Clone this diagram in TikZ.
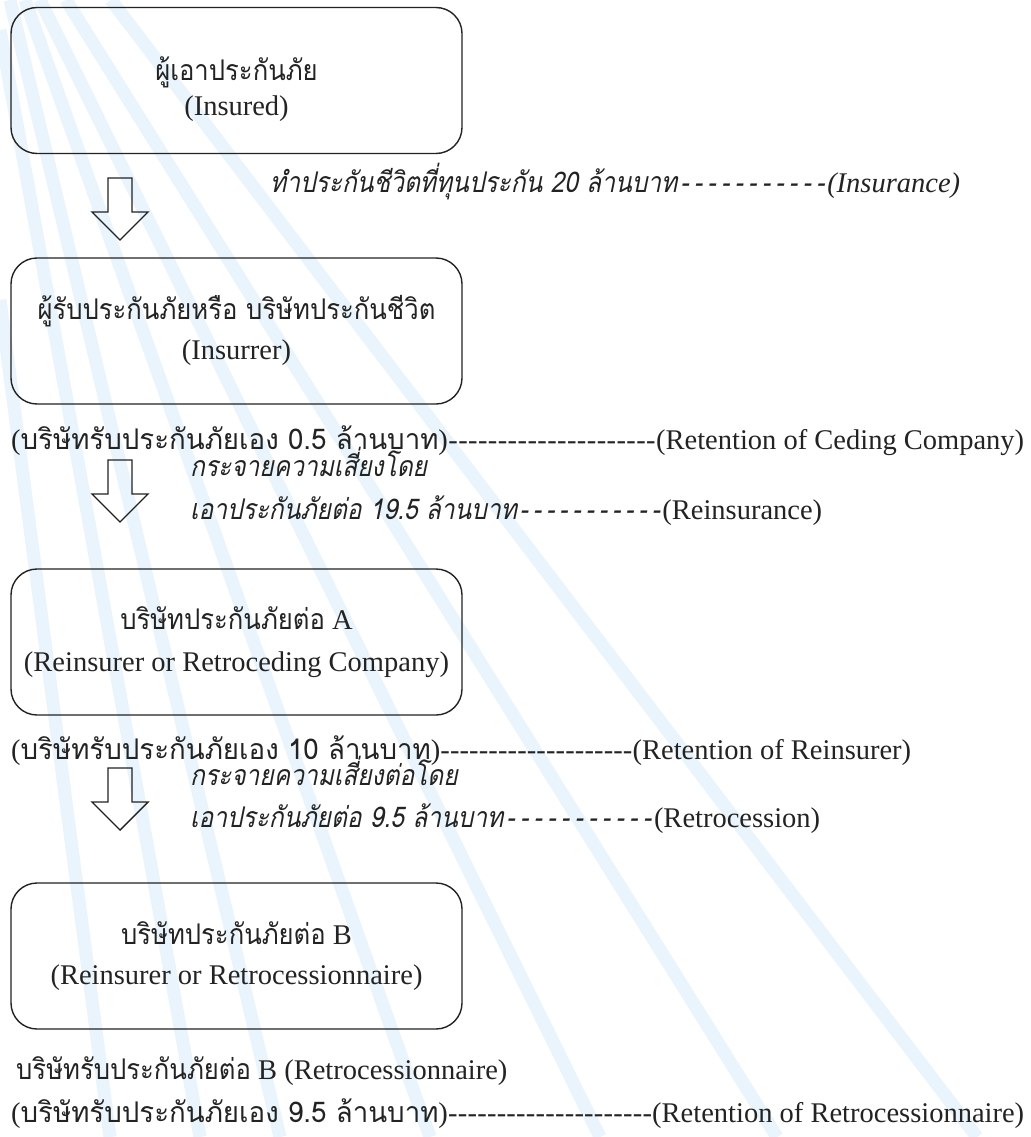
\documentclass[tikz,border=0pt]{standalone}
\usepackage{fontspec}
\setmainfont{Liberation Serif}
\newfontfamily\thaifont[Script=Thai,FakeStretch=0.9]{Loma}
\newfontfamily\thairfont[Script=Thai,FakeStretch=0.97]{Loma}
\newfontfamily\thaiitfont[Script=Thai,FakeSlant=0.2,FakeStretch=0.86]{Loma}
\newcommand{\thaitxt}[1]{{\thaifont #1}}
\newcommand{\thairtxt}[1]{{\thairfont #1}}
\newcommand{\itdash}{\hbox to 13pt{\hss-\hss}}
\definecolor{stripecol}{RGB}{233,244,252}
\definecolor{inkcol}{RGB}{35,35,35}
\tikzset{
  bodyfont/.style={font=\fontsize{28.5}{38}\selectfont},
  box/.style={draw=inkcol, line width=1.4pt, rounded corners=26pt, minimum width=451pt,
    minimum height=146pt, inner sep=0pt},
  intxt/.style={bodyfont, text=inkcol, inner sep=0pt, anchor=base},
  txt/.style={bodyfont, text=inkcol, inner sep=0pt, anchor=base west},
  stripe/.style={stripecol, line width=13pt},
  arrowline/.style={draw=inkcol, line width=1.4pt, line join=miter},
  downarrow/.pic={\draw[arrowline] (-12,0) -- (12,0) -- (12,34) -- (28,34) -- (0,62) -- (-28,34) -- (-12,34) -- cycle;}
}
\begin{document}
\begin{tikzpicture}[x=1pt,y=-1pt]
\useasboundingbox (0,0) rectangle (1030,1137);
\fill[white] (0,0) rectangle (1030,1137);
% background stripes
\draw[stripe] (111,0) -- (977,1137);
\draw[stripe] (66,0) -- (777,1137);
\draw[stripe] (40,0) -- (600,1137);
\draw[stripe] (25,0) -- (430,1137);
\draw[stripe] (10,0) -- (280,1137);
\draw[stripe] (0,30) -- (200,1137);
\draw[stripe] (0,300) -- (110,1137);
% boxes
\node[box] (b1) at (236.5,80.5) {};
\node[box] (b2) at (236.5,331) {};
\node[box] (b3) at (236.5,642) {};
\node[box] (b4) at (236.5,956) {};
\node[intxt] (b1t) at (236.5,81) {\thaitxt{ผู้เอาประกันภัย}};
\node[intxt] (b1e) at (236.5,116) {(Insured)};
\node[intxt] (b2t) at (236.5,319) {\thaitxt{ผู้รับประกันภัยหรือ บริษัทประกันชีวิต}};
\node[intxt] (b2e) at (236.5,359) {(Insurrer)};
\node[intxt] (b3t) at (236.5,629) {\thaitxt{บริษัทประกันภัยต่อ} A};
\node[intxt] (b3e) at (236.5,671) {(Reinsurer or Retroceding Company)};
\node[intxt] (b4t) at (236.5,944) {\thaitxt{บริษัทประกันภัยต่อ} B};
\node[intxt] (b4e) at (236.5,984) {(Reinsurer or Retrocessionnaire)};
% arrows
\coordinate (a1) at (120,178);
\coordinate (a2) at (120,460);
\coordinate (a3) at (120,768);
\pic at (a1) {downarrow};
\pic at (a2) {downarrow};
\pic at (a3) {downarrow};
% lines of text
\node[txt] (i1) at (270,192) {\hbox to 690pt{\thaiitfont ทำประกันชีวิตที่ทุนประกัน 20 ล้านบาท\xleaders\itdash\hfill{\rmfamily\itshape (Insurance)}}};
\node[txt] (r1) at (11,449) {\hbox to 1013pt{(\thairtxt{บริษัทรับประกันภัยเอง 0.5 ล้านบาท})\xleaders\hbox{-}\hfill(Retention of Ceding Company)}};
\node[txt] (i2a) at (190,476) {\thaiitfont กระจายความเสี่ยงโดย};
\node[txt] (i2b) at (190,519) {\hbox to 632pt{\thaiitfont เอาประกันภัยต่อ 19.5 ล้านบาท\xleaders\itdash\hfill{\rmfamily (Reinsurance)}}};
\node[txt] (r2) at (11,759) {\hbox to 900pt{(\thairtxt{บริษัทรับประกันภัยเอง 10 ล้านบาท})\xleaders\hbox{-}\hfill(Retention of Reinsurer)}};
\node[txt] (i3a) at (190,785) {\thaiitfont กระจายความเสี่ยงต่อโดย};
\node[txt] (i3b) at (190,827) {\hbox to 630pt{\thaiitfont เอาประกันภัยต่อ 9.5 ล้านบาท\xleaders\itdash\hfill{\rmfamily (Retrocession)}}};
\node[txt] (l1) at (16,1079) {\thaitxt{บริษัทรับประกันภัยต่อ} B (Retrocessionnaire)};
\node[txt] (l2) at (11,1122) {\hbox to 1013pt{(\thairtxt{บริษัทรับประกันภัยเอง 9.5 ล้านบาท})\xleaders\hbox{-}\hfill(Retention of Retrocessionnaire)}};
\end{tikzpicture}
\end{document}
